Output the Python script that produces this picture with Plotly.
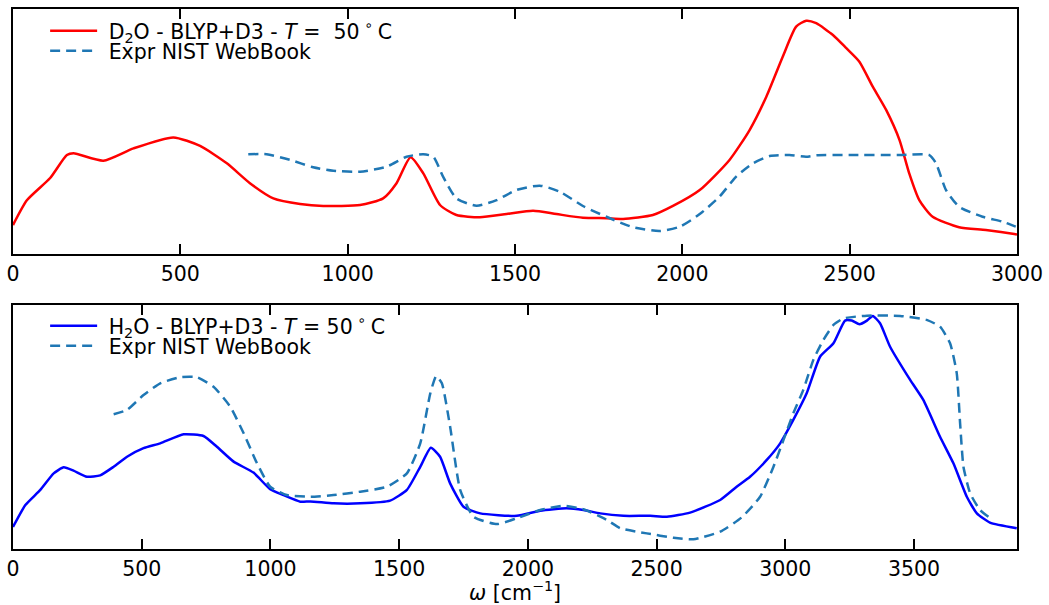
import plotly.graph_objects as go

# ---------------- D2O panel (top) ----------------
d2o_sim_w = [0, 42, 111, 161, 181, 270, 360, 479, 559, 639, 708, 778, 858, 927, 1037, 1106, 1146,
             1188, 1226, 1276, 1325, 1395, 1475, 1554, 1624, 1703, 1773, 1823, 1912, 1972, 2052,
             2141, 2201, 2251, 2300, 2340, 2370, 2400, 2450, 2490, 2529, 2569, 2609, 2649, 2678,
             2708, 2748, 2827, 2907, 2992, 3000]
d2o_sim_i = [0.118, 0.220, 0.310, 0.404, 0.411, 0.381, 0.431, 0.476, 0.441, 0.370, 0.289, 0.227,
             0.204, 0.196, 0.200, 0.227, 0.289, 0.395, 0.329, 0.200, 0.159, 0.150, 0.163, 0.177,
             0.163, 0.148, 0.146, 0.143, 0.159, 0.196, 0.261, 0.384, 0.506, 0.642, 0.805, 0.928,
             0.952, 0.942, 0.894, 0.840, 0.785, 0.683, 0.588, 0.465, 0.329, 0.220, 0.152, 0.109,
             0.098, 0.082, 0.080]

d2o_exp_w = [703, 758, 828, 897, 957, 1037, 1116, 1176, 1226, 1256, 1285, 1325, 1385, 1445, 1504,
             1574, 1634, 1703, 1773, 1853, 1932, 1992, 2052, 2111, 2161, 2211, 2261, 2320, 2370,
             2400, 2499, 2649, 2738, 2758, 2788, 2827, 2897, 2957, 2992, 3000]
d2o_exp_i = [0.407, 0.407, 0.384, 0.354, 0.340, 0.336, 0.356, 0.397, 0.407, 0.397, 0.316, 0.227,
             0.197, 0.220, 0.261, 0.279, 0.254, 0.196, 0.152, 0.109, 0.094, 0.111, 0.163, 0.234,
             0.316, 0.370, 0.400, 0.404, 0.397, 0.403, 0.404, 0.404, 0.404, 0.370, 0.261, 0.193,
             0.152, 0.132, 0.114, 0.110]

# ---------------- H2O panel (bottom) ----------------
h2o_sim_w = [0, 48, 106, 158, 197, 235, 287, 339, 391, 443, 507, 572, 663, 740, 792, 857, 934, 999,
             1051, 1116, 1155, 1245, 1349, 1465, 1530, 1582, 1623, 1659, 1698, 1750, 1815, 1957,
             2048, 2151, 2216, 2281, 2371, 2475, 2540, 2630, 2747, 2811, 2863, 2928, 2980, 3031,
             3083, 3135, 3187, 3232, 3258, 3288, 3317, 3340, 3368, 3407, 3485, 3536, 3601, 3653,
             3705, 3744, 3795, 3899]
h2o_sim_i = [0.090, 0.180, 0.242, 0.310, 0.335, 0.321, 0.296, 0.302, 0.337, 0.378, 0.413, 0.433,
             0.470, 0.463, 0.419, 0.358, 0.313, 0.245, 0.221, 0.194, 0.195, 0.187, 0.187, 0.198,
             0.242, 0.337, 0.415, 0.378, 0.269, 0.173, 0.146, 0.136, 0.157, 0.167, 0.160, 0.146,
             0.136, 0.136, 0.132, 0.149, 0.201, 0.255, 0.296, 0.365, 0.433, 0.529, 0.638, 0.788,
             0.843, 0.936, 0.936, 0.921, 0.936, 0.955, 0.925, 0.829, 0.693, 0.611, 0.460, 0.351,
             0.214, 0.146, 0.108, 0.085]

h2o_exp_w = [391, 443, 507, 572, 650, 714, 779, 844, 896, 948, 999, 1064, 1155, 1245, 1349, 1452,
             1530, 1582, 1621, 1644, 1666, 1698, 1737, 1789, 1880, 1957, 2048, 2138, 2216, 2307,
             2359, 2462, 2566, 2643, 2747, 2830, 2902, 2954, 2993, 3031, 3070, 3109, 3148, 3187,
             3226, 3317, 3446, 3549, 3601, 3640, 3666, 3679, 3692, 3718, 3756, 3789]
h2o_exp_i = [0.552, 0.570, 0.631, 0.679, 0.704, 0.704, 0.665, 0.583, 0.474, 0.351, 0.255, 0.221,
             0.214, 0.221, 0.235, 0.255, 0.310, 0.433, 0.638, 0.709, 0.679, 0.501, 0.242, 0.132,
             0.102, 0.126, 0.160, 0.177, 0.163, 0.119, 0.085, 0.064, 0.046, 0.040, 0.071, 0.129,
             0.214, 0.337, 0.447, 0.556, 0.652, 0.775, 0.857, 0.918, 0.945, 0.956, 0.955, 0.939,
             0.911, 0.843, 0.720, 0.515, 0.337, 0.228, 0.160, 0.132]

top_ticks = [0, 500, 1000, 1500, 2000, 2500, 3000]
bot_ticks = [0, 500, 1000, 1500, 2000, 2500, 3000, 3500]

FONT = "DejaVu Sans"
FS = 20.5
DASH = "10px,6px"
NB = "\u00a0"

fig = go.Figure()
fig.add_trace(go.Scatter(x=d2o_sim_w, y=d2o_sim_i, mode="lines",
                         line=dict(color="#ff0000", width=2.5, shape="spline", smoothing=0.6),
                         name=NB + "D<sub>2</sub>O - BLYP+D3 - <i>T</i> =  50<sup> ∘ </sup>C",
                         xaxis="x", yaxis="y", legend="legend"))
fig.add_trace(go.Scatter(x=d2o_exp_w, y=d2o_exp_i, mode="lines",
                         line=dict(color="#1f77b4", width=2.5, dash=DASH, shape="spline", smoothing=0.6),
                         name=NB + "Expr NIST WebBook", xaxis="x", yaxis="y", legend="legend2"))
fig.add_trace(go.Scatter(x=h2o_sim_w, y=h2o_sim_i, mode="lines",
                         line=dict(color="#0000ff", width=2.5, shape="spline", smoothing=0.5),
                         name=NB + "H<sub>2</sub>O - BLYP+D3 - <i>T</i> = 50<sup> ∘ </sup>C",
                         xaxis="x2", yaxis="y2", legend="legend3"))
fig.add_trace(go.Scatter(x=h2o_exp_w, y=h2o_exp_i, mode="lines",
                         line=dict(color="#1f77b4", width=2.5, dash=DASH, shape="spline", smoothing=0.5),
                         name=NB + "Expr NIST WebBook", xaxis="x2", yaxis="y2", legend="legend4"))

axis_common = dict(showline=True, linecolor="black", linewidth=2, mirror="ticks",
                   ticks="inside", ticklen=10, tickwidth=2, tickcolor="black",
                   showgrid=False, zeroline=False, automargin=False,
                   tickfont=dict(family=FONT, size=FS, color="black"))
yaxis_common = dict(showline=True, linecolor="black", linewidth=2, mirror=True,
                    ticks="", showticklabels=False, showgrid=False, zeroline=False,
                    automargin=False, range=[0, 1])

legend_common = dict(font=dict(family=FONT, size=FS, color="black"), bgcolor="rgba(0,0,0,0)",
                     borderwidth=0, xanchor="left", yanchor="middle", itemwidth=47,
                     tracegroupgap=0, x=0.032)

fig.update_layout(
    width=1049, height=605,
    margin=dict(l=13, r=32, t=9, b=56),
    plot_bgcolor="white", paper_bgcolor="white",
    font=dict(family=FONT, size=FS, color="black"),
    xaxis=dict(domain=[0, 1], anchor="y", range=[0, 3000], tickvals=top_ticks, **axis_common),
    yaxis=dict(domain=[0.5463, 1], anchor="x", **yaxis_common),
    xaxis2=dict(domain=[0, 1], anchor="y2", range=[0, 3900], tickvals=bot_ticks,
                title=dict(text="<i>ω</i> [cm<sup>−1</sup>]", font=dict(family=FONT, size=FS),
                           standoff=4),
                **axis_common),
    yaxis2=dict(domain=[0, 0.4519], anchor="x2", **yaxis_common),
    legend=dict(y=0.9593, **legend_common),
    legend2=dict(y=0.9222, **legend_common),
    legend3=dict(y=0.4130, **legend_common),
    legend4=dict(y=0.3759, **legend_common),
    showlegend=True,
)

fig.write_html("out.html")
